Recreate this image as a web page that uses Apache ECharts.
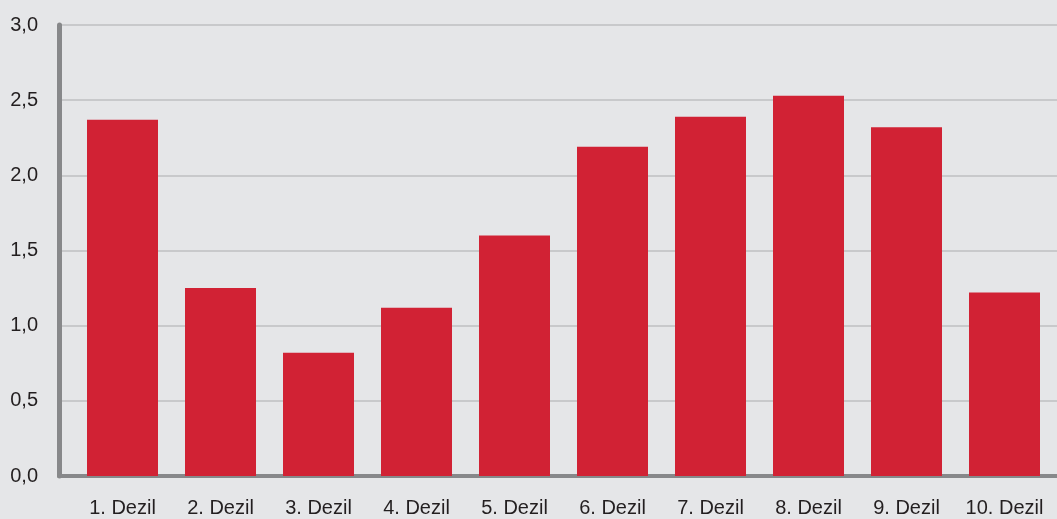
<!DOCTYPE html>
<html>
<head>
<meta charset="utf-8">
<script src="https://cdn.jsdelivr.net/npm/echarts@6/dist/echarts.min.js"></script>
<style>
html,body{margin:0;padding:0;background:#e5e6e8;}
#c{width:1057px;height:519px;}
</style>
</head>
<body>
<div id="c"></div>
<script>
const categories = ["1. Dezil","2. Dezil","3. Dezil","4. Dezil","5. Dezil","6. Dezil","7. Dezil","8. Dezil","9. Dezil","10. Dezil"];
const values = [2.37, 1.25, 0.82, 1.12, 1.60, 2.19, 2.39, 2.53, 2.32, 1.22];
const yMin = 0, yMax = 3, yStep = 0.5;

const chart = echarts.init(document.getElementById('c'), null, {renderer:'canvas'});
const font = '"Liberation Sans", Arial, sans-serif';
chart.setOption({
  backgroundColor: '#e5e6e8',
  animation: false,
  grid: [
    {left: 59, right: 0, top: 25, bottom: 43, containLabel: false},
    {left: 73.5, right: 3.5, top: 25, bottom: 43, containLabel: false}
  ],
  xAxis: [
    {type:'value', gridIndex:0, min:0, max:1, show:true,
     axisLine:{show:true, onZero:false, lineStyle:{color:'#87888a', width:4}},
     axisTick:{show:false}, axisLabel:{show:false}, splitLine:{show:false}},
    {type:'category', gridIndex:1, data: categories,
     axisLine:{show:false}, axisTick:{show:false},
     axisLabel:{color:'#231f20', fontSize:20, fontFamily:font, margin:22, interval:0}}
  ],
  yAxis: [
    {type:'value', gridIndex:0, min:yMin, max:yMax, interval:yStep,
     axisLine:{show:true, lineStyle:{color:'#87888a', width:5}},
     axisTick:{show:false},
     axisLabel:{color:'#231f20', fontSize:20, fontFamily:font, margin:21,
       formatter: v => v.toFixed(1).replace('.', ',')},
     splitLine:{show:true, lineStyle:{color:'#c8c9cb', width:2}}},
    {type:'value', gridIndex:1, min:yMin, max:yMax, interval:yStep, show:false,
     splitLine:{show:false}}
  ],
  series: [{
    type:'bar', xAxisIndex:1, yAxisIndex:1, data: values,
    barWidth: 71, itemStyle:{color:'#d12234'}, z:1
  }]
});
</script>
</body>
</html>
